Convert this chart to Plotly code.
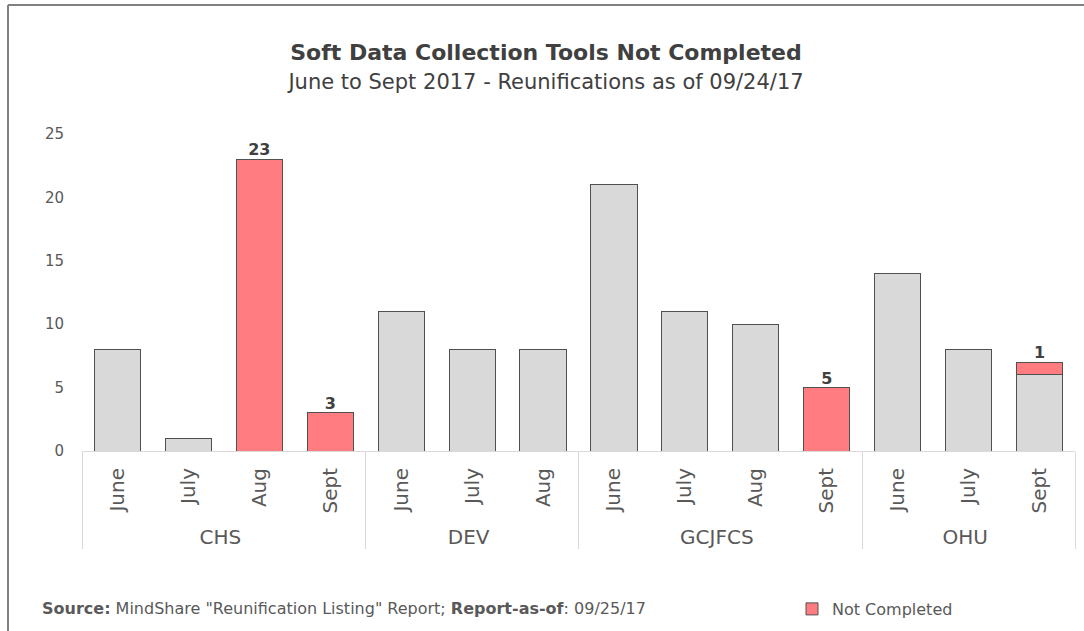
import plotly.graph_objects as go

groups = ["CHS"] * 4 + ["DEV"] * 3 + ["GCJFCS"] * 4 + ["OHU"] * 3
months = ["June", "July", "Aug", "Sept",
          "June", "July", "Aug",
          "June", "July", "Aug", "Sept",
          "June", "July", "Sept"]
completed = [8, 1, 0, 0, 11, 8, 8, 21, 11, 10, 0, 14, 8, 6]
not_completed = [0, 0, 23, 3, 0, 0, 0, 0, 0, 0, 5, 0, 0, 1]

title = "Soft Data Collection Tools Not Completed"
subtitle = "June to Sept 2017 - Reunifications as of 09/24/17"

totals = [a + b for a, b in zip(completed, not_completed)]
labels = [str(v) if v else "" for v in not_completed]

FONT = "DejaVu Sans, Liberation Sans, Arial, sans-serif"
TXT = "#595959"
DARK = "#404040"

fig = go.Figure()
fig.add_trace(go.Bar(
    x=[groups, months], y=completed, name="Completed", showlegend=False,
    marker=dict(color="#d9d9d9", line=dict(color="#505050", width=1)),
))
fig.add_trace(go.Bar(
    x=[groups, months], y=not_completed, name="Not Completed",
    marker=dict(color="#ff7c80", line=dict(color="#505050", width=1)),
))
fig.add_trace(go.Scatter(
    x=[groups, months], y=totals, mode="text", text=labels,
    textposition="top center", showlegend=False, cliponaxis=False,
    textfont=dict(family=FONT, size=16, color=DARK, weight="bold"),
))

L, R, T, B = 82, 9, 134, 180
W, H = 1084, 631
pw, ph = W - L - R, H - T - B

def px(x):
    return (x - L) / pw

def py(y):
    return (H - B - y) / ph

fig.update_layout(
    width=W, height=H,
    margin=dict(l=L, r=R, t=T, b=B, autoexpand=False),
    barmode="stack", bargap=0.35,
    plot_bgcolor="white", paper_bgcolor="white",
    font=dict(family=FONT, color=TXT),
    title=dict(
        text=f"<b>{title}</b><br><span style='font-size:21px;font-weight:normal'>{subtitle}</span>",
        x=546 / W, xref="container", xanchor="center", y=1 - 60 / H, yanchor="top",
        font=dict(family=FONT, size=22, color=DARK),
    ),
    xaxis=dict(
        type="multicategory", tickangle=-90, showgrid=False, automargin=False,
        range=[-0.5, len(months) - 0.5],
        showline=True, linecolor="#d9d9d9", linewidth=1,
        showdividers=True, dividercolor="#d9d9d9", dividerwidth=1,
        tickfont=dict(family=FONT, size=20, color=TXT), ticks="",
        ticklabelstandoff=8,
    ),
    yaxis=dict(
        range=[0, 25], dtick=5, showgrid=False, zeroline=False, showline=False,
        automargin=False,
        tickfont=dict(family=FONT, size=15, color=TXT), ticks="",
        ticklabelstandoff=17,
    ),
    legend=dict(
        x=px(792), y=py(609), xanchor="left", yanchor="middle",
        font=dict(family=FONT, size=16, color=TXT), bgcolor="rgba(0,0,0,0)",
    ),
    showlegend=True,
)

fig.add_annotation(
    xref="paper", yref="paper", x=px(40), y=py(608), xanchor="left", yanchor="middle",
    text="<b>Source:</b> MindShare \"Reunification Listing\" Report; <b>Report-as-of</b>: 09/25/17",
    showarrow=False, font=dict(family=FONT, size=16, color=TXT),
)

fig.add_shape(type="line", xref="paper", yref="paper",
              x0=px(8), x1=px(8), y0=py(5), y1=py(H + 5),
              line=dict(color="#808080", width=2))
fig.add_shape(type="line", xref="paper", yref="paper",
              x0=px(8), x1=px(W + 5), y0=py(5), y1=py(5),
              line=dict(color="#808080", width=2))

fig.write_html("out.html", config={"displayModeBar": False},
               post_script="document.body.style.margin='0';")
